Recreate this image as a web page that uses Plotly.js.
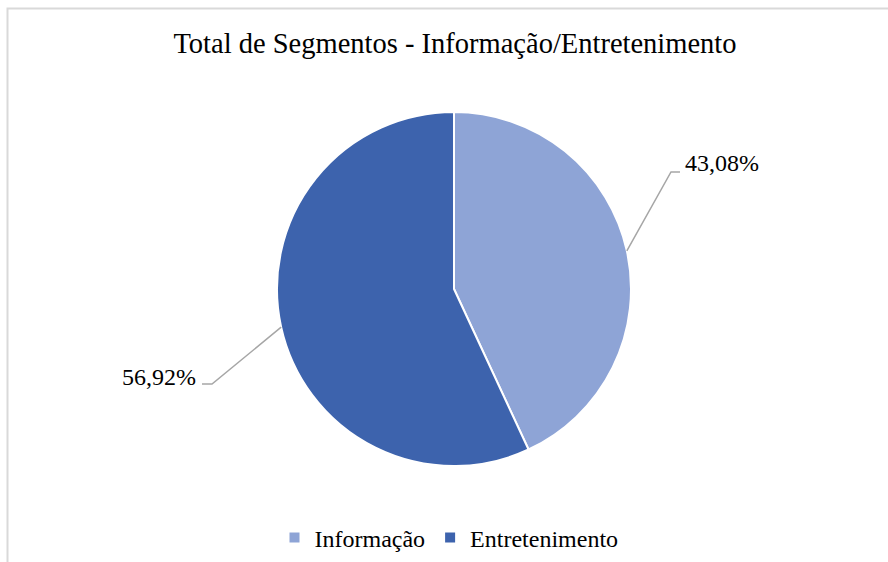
<!DOCTYPE html>
<html>
<head>
<meta charset="utf-8">
<script src="https://cdn.plot.ly/plotly-3.0.1.min.js"></script>
<style>
  html, body { margin: 0; padding: 0; background: #fff; }
  #chart { width: 888px; height: 562px; }
</style>
</head>
<body>
<div id="chart"></div>
<script>
const W = 888, H = 562;
const SERIF = 'Liberation Serif';

// data
const segments = ['Informação', 'Entretenimento'];
const shares = [43.08, 56.92];
const sliceColors = ['#8EA4D6', '#3D63AD'];
const labelTexts = ['43,08%', '56,92%'];

// pie geometry in pixels
const cx = 454, cy = 289, radius = 177;

// label placement (elbow point, end of horizontal stub, text anchor)
const labelSpots = [
    { elbow: [671, 172], stub: 680, text: [683, 163], anchor: 'left' },
    { elbow: [212, 384], stub: 202, text: [198, 377], anchor: 'right' }
];

const px = x => x / W;
const py = y => 1 - y / H;

// leader line start: mid-angle of each slice on the pie edge
const total = shares.reduce((a, b) => a + b, 0);
let acc = 0;
const shapes = [];
const annotations = [];
shares.forEach((v, i) => {
    const mid = (acc + v / 2) / total * 2 * Math.PI;
    acc += v;
    const sx = cx + radius * Math.sin(mid);
    const sy = cy - radius * Math.cos(mid);
    const s = labelSpots[i];
    shapes.push({
        type: 'path', xref: 'paper', yref: 'paper',
        path: `M${px(sx)},${py(sy)} L${px(s.elbow[0])},${py(s.elbow[1])} L${px(s.stub)},${py(s.elbow[1])}`,
        line: { color: '#a6a6a6', width: 1.5 }
    });
    annotations.push({
        xref: 'paper', yref: 'paper',
        x: px(s.text[0]), y: py(s.text[1]),
        xanchor: s.anchor, yanchor: 'middle',
        text: labelTexts[i], showarrow: false,
        font: { family: SERIF, size: 24, color: '#000' }
    });
});

// chart frame
shapes.push({
    type: 'rect', xref: 'paper', yref: 'paper',
    x0: px(7.5), x1: 1.2, y0: -0.2, y1: py(8.5),
    line: { color: '#d9d9d9', width: 2 }
});

const data = [{
    type: 'pie',
    labels: segments,
    values: shares,
    sort: false,
    direction: 'clockwise',
    rotation: 0,
    textinfo: 'none',
    hoverinfo: 'label+percent',
    marker: { colors: sliceColors, line: { color: '#fff', width: 2 } },
    domain: { x: [px(cx - radius), px(cx + radius)], y: [py(cy + radius), py(cy - radius)] }
}];

const layout = {
    width: W, height: H,
    margin: { l: 0, r: 0, t: 0, b: 0 },
    paper_bgcolor: '#fff',
    font: { family: SERIF, color: '#000' },
    title: {
        text: 'Total de Segmentos - Informação/Entretenimento',
        font: { family: SERIF, size: 28.5, color: '#000' },
        x: px(455), xanchor: 'center',
        y: py(43), yanchor: 'middle'
    },
    showlegend: true,
    legend: {
        orientation: 'h',
        x: px(449), xanchor: 'center',
        y: py(538), yanchor: 'middle',
        font: { family: SERIF, size: 24, color: '#000' }
    },
    shapes: shapes,
    annotations: annotations
};

Plotly.newPlot('chart', data, layout, { displayModeBar: false, staticPlot: true });
</script>
</body>
</html>
